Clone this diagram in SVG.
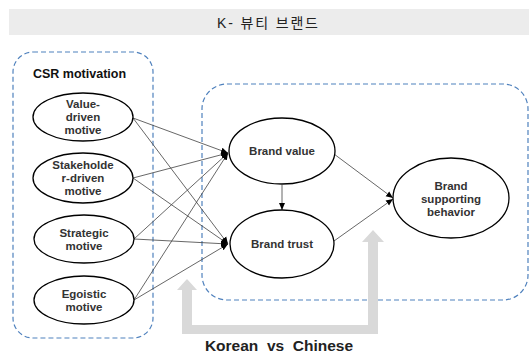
<svg xmlns="http://www.w3.org/2000/svg" width="529" height="355" viewBox="0 0 529 355">
<style>
.ell{fill:#fff;stroke:#000;stroke-width:1.3}
.t{font-family:"Liberation Sans",Arial,sans-serif;font-weight:bold;font-size:11.5px;fill:#333;text-anchor:middle}
.box{fill:none;stroke:#4f81bd;stroke-width:1.2;stroke-dasharray:5 3}
.ln{stroke:#404040;stroke-width:0.8;fill:none}
</style>
<defs>
<marker id="ah" markerWidth="8" markerHeight="8" refX="7" refY="4" orient="auto" markerUnits="userSpaceOnUse">
<path d="M0,1 L7,4 L0,7 Z" fill="#000"/>
</marker>
</defs>
<rect x="9" y="9" width="520" height="26" fill="#ececec"/>
<text x="217" y="27.5" font-family="'Liberation Sans','Noto Sans CJK KR',sans-serif" font-size="14" fill="#222" textLength="101" lengthAdjust="spacing">K- 뷰티 브랜드</text>
<rect class="box" x="13" y="52" width="140" height="286" rx="20"/>
<rect class="box" x="202" y="84" width="326" height="216" rx="25"/>
<text x="33" y="78" font-family="'Liberation Sans',Arial,sans-serif" font-weight="bold" font-size="12.5" fill="#111">CSR motivation</text>
<path d="M177,290 L187,279 L197,290 L192,290 L192,325 L368,325 L368,242 L362,242 L373,230 L384,242 L378,242 L378,334 L182,334 L182,290 Z" fill="#d9d9d9"/>
<text x="279" y="351" font-family="'Liberation Sans',Arial,sans-serif" font-weight="bold" font-size="15.5" fill="#222" text-anchor="middle" style="white-space:pre">Korean  vs  Chinese</text>
<g id="connectors">
<line class="ln" x1="133" y1="118" x2="228" y2="153" marker-end="url(#ah)"/>
<line class="ln" x1="133" y1="118" x2="228" y2="244" marker-end="url(#ah)"/>
<line class="ln" x1="133" y1="178" x2="228" y2="153" marker-end="url(#ah)"/>
<line class="ln" x1="133" y1="178" x2="228" y2="244" marker-end="url(#ah)"/>
<line class="ln" x1="134" y1="239" x2="228" y2="153" marker-end="url(#ah)"/>
<line class="ln" x1="134" y1="239" x2="228" y2="244" marker-end="url(#ah)"/>
<line class="ln" x1="134" y1="300" x2="228" y2="153" marker-end="url(#ah)"/>
<line class="ln" x1="134" y1="300" x2="228" y2="244" marker-end="url(#ah)"/>
<line class="ln" x1="282" y1="185" x2="282" y2="210" marker-end="url(#ah)"/>
<line class="ln" x1="334" y1="154" x2="393" y2="198" marker-end="url(#ah)"/>
<line class="ln" x1="334" y1="241" x2="393" y2="199" marker-end="url(#ah)"/>
</g>
<g id="value-driven">
<ellipse class="ell" cx="83" cy="117" rx="50" ry="24"/>
<text class="t" x="83" y="108">Value-</text>
<text class="t" x="83" y="121">driven</text>
<text class="t" x="83" y="134">motive</text>
</g>
<g id="stakeholder-driven">
<ellipse class="ell" cx="83" cy="178" rx="50" ry="25"/>
<text class="t" x="83" y="169">Stakeholde</text>
<text class="t" x="83" y="182">r-driven</text>
<text class="t" x="83" y="195">motive</text>
</g>
<g id="strategic">
<ellipse class="ell" cx="84" cy="239" rx="50" ry="24"/>
<text class="t" x="84" y="237">Strategic</text>
<text class="t" x="84" y="250">motive</text>
</g>
<g id="egoistic">
<ellipse class="ell" cx="84" cy="300" rx="50" ry="24"/>
<text class="t" x="84" y="298">Egoistic</text>
<text class="t" x="84" y="311">motive</text>
</g>
<g id="brand-value">
<ellipse class="ell" cx="282" cy="151" rx="53" ry="33"/>
<text class="t" x="282" y="155" font-size="12">Brand value</text>
</g>
<g id="brand-trust">
<ellipse class="ell" cx="282" cy="244" rx="52" ry="34"/>
<text class="t" x="282" y="248" font-size="12">Brand trust</text>
</g>
<g id="brand-supporting">
<ellipse class="ell" cx="451" cy="198" rx="58" ry="40"/>
<text class="t" x="451" y="190">Brand</text>
<text class="t" x="451" y="203">supporting</text>
<text class="t" x="451" y="216">behavior</text>
</g>
</svg>
